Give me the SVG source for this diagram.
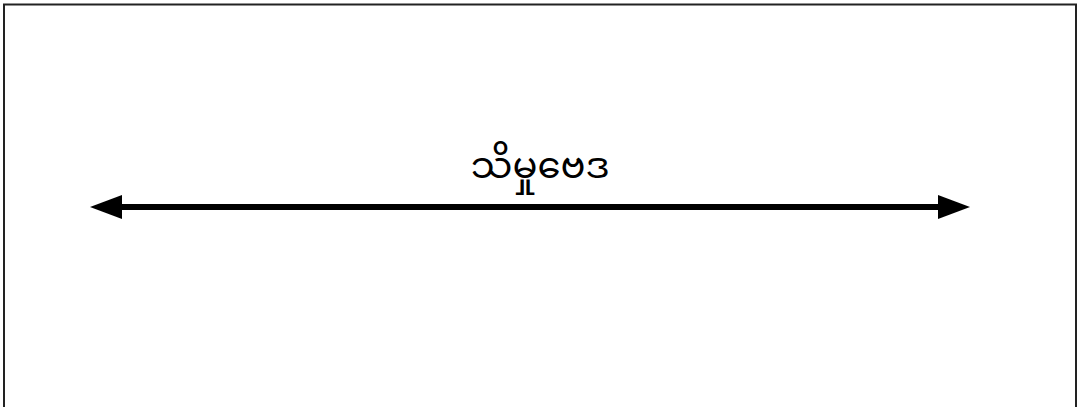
<svg xmlns="http://www.w3.org/2000/svg" width="1078" height="407" viewBox="0 0 1078 407">
<style>
.lbl{font-family:"Noto Sans Myanmar","Padauk","Myanmar Text","Noto Sans",sans-serif;font-size:37px;fill:#000;text-anchor:middle}
.conn{stroke:#000;stroke-width:6;fill:none}
.head{fill:#000}
</style>
<rect x="0" y="0" width="1078" height="407" fill="#fff"/>
<path d="M4,407 V4.5 H1076 V407" fill="none" stroke="#222" stroke-width="2"/>
<g id="connectors">
<line class="conn" x1="115" y1="207" x2="945" y2="207"/>
<path class="head" d="M90,207 L122,195 L122,219 Z"/>
<path class="head" d="M970,207 L938,195 L938,219 Z"/>
</g>
<g id="label">
<text class="lbl" x="540" y="178">သိမှုဗေဒ</text>
</g>
</svg>
